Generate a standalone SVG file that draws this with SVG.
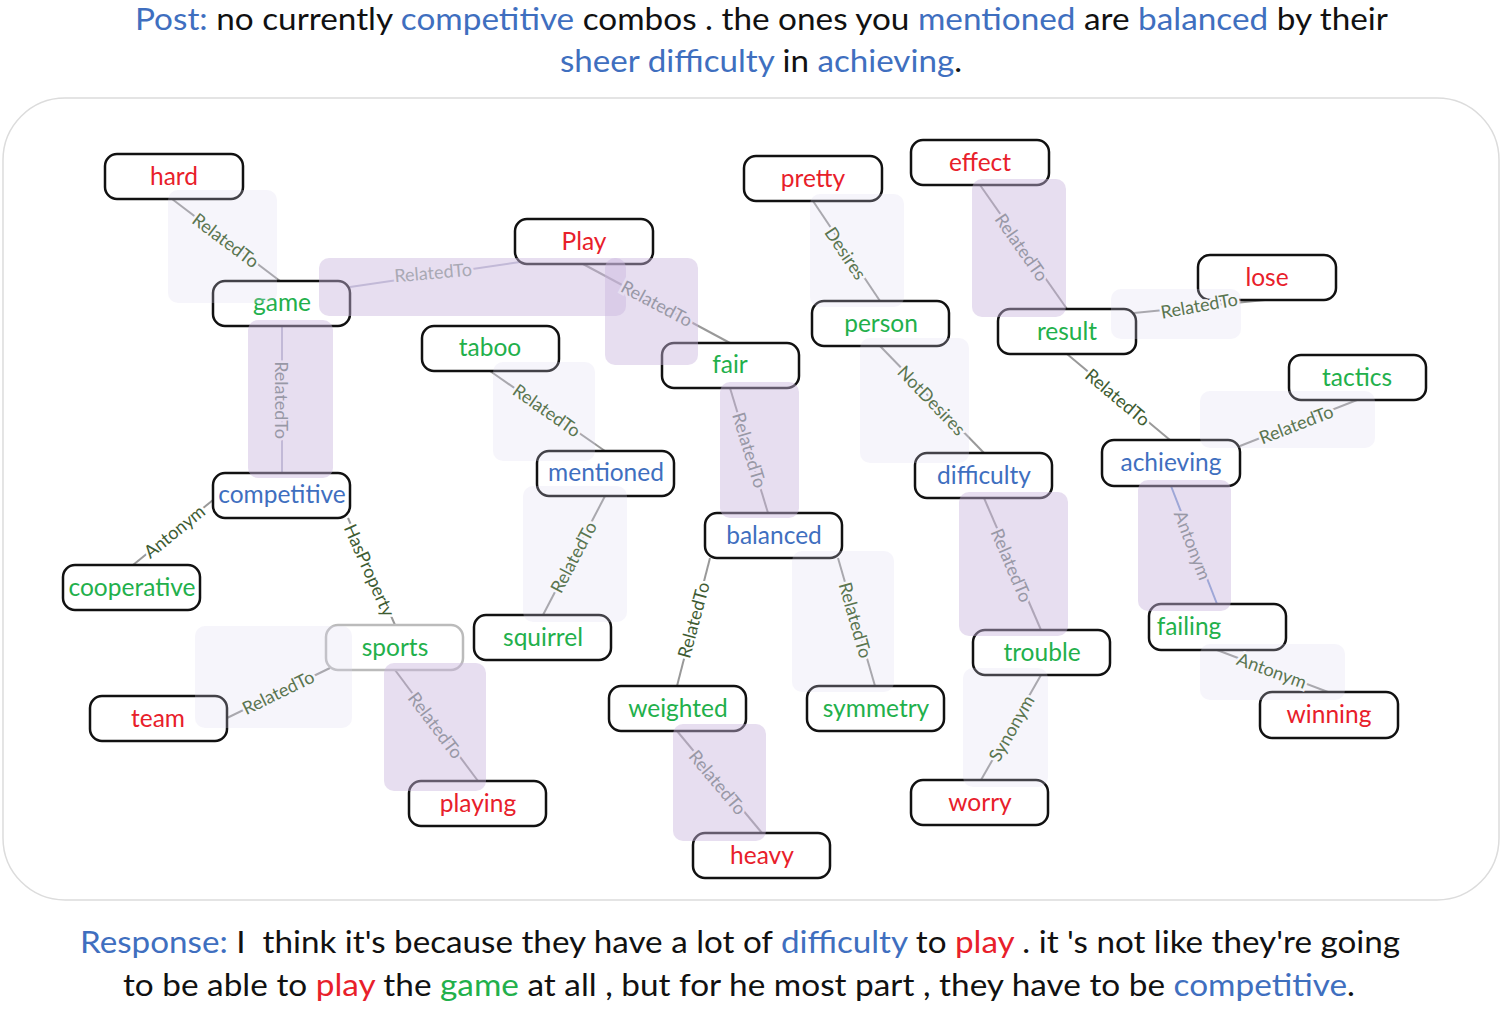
<svg xmlns="http://www.w3.org/2000/svg" width="1504" height="1009" viewBox="0 0 1504 1009">
<style>
.cap{font-family:Lato,"Open Sans","Liberation Sans",sans-serif;font-size:31px;fill:#111}
.b{fill:#3f6fbf}.r{fill:#e8202a}.g{fill:#22b04b}
.box{fill:#fff;stroke:#111;stroke-width:2.5}
.box2{fill:#fff;stroke:#bbb;stroke-width:2.5}
.nt{font-family:Lato,"Open Sans","Liberation Sans",sans-serif;font-size:24.5px;text-anchor:middle}
.ln{stroke:#999;stroke-width:2;fill:none}
.ln2{stroke:#bcbcd2;stroke-width:2;fill:none}
.ln3{stroke:#7b9bd2;stroke-width:2;fill:none}
.sp{fill:#c9b6dd;opacity:0.45}
.sf{fill:#dcd8ee;opacity:0.25}
.lb{font-family:Lato,"Open Sans","Liberation Sans",sans-serif;font-size:18px;text-anchor:middle;dominant-baseline:central;paint-order:stroke;stroke-width:5px}
.lg{fill:#3e5c32;stroke:#fff}
.lf{fill:#5a7550;stroke:#f7f6fb}
.lp{fill:#9898a6;stroke:#e7def0}
</style>
<!-- captions -->
<text class="cap" x="135" y="30" textLength="1253" lengthAdjust="spacingAndGlyphs"><tspan class="b">Post:</tspan> no currently <tspan class="b">competitive</tspan> combos . the ones you <tspan class="b">mentioned</tspan> are <tspan class="b">balanced</tspan> by their</text>
<text class="cap" x="560" y="72" textLength="402" lengthAdjust="spacingAndGlyphs"><tspan class="b">sheer difficulty</tspan> in <tspan class="b">achieving</tspan>.</text>
<text class="cap" x="80" y="953" textLength="1320" lengthAdjust="spacingAndGlyphs" xml:space="preserve"><tspan class="b">Response:</tspan> I  think it's because they have a lot of <tspan class="b">difficulty</tspan> to <tspan class="r">play</tspan> . it 's not like they're going</text>
<text class="cap" x="123" y="996" textLength="1232" lengthAdjust="spacingAndGlyphs">to be able to <tspan class="r">play</tspan> the <tspan class="g">game</tspan> at all , but for he most part , they have to be <tspan class="b">competitive</tspan>.</text>
<rect x="3" y="98" width="1496" height="802" rx="62" fill="#fff" stroke="#dcdcdc" stroke-width="1.5"/>
<g id="connectors">
<line class="ln" x1="172" y1="199" x2="280" y2="281"/>
<line class="ln2" x1="350" y1="287" x2="520" y2="262"/>
<line class="ln" x1="583" y1="264" x2="730" y2="343"/>
<line class="ln2" x1="282" y1="326" x2="282" y2="473"/>
<line class="ln" x1="490" y1="371" x2="605" y2="451"/>
<line class="ln" x1="730" y1="388" x2="768" y2="513"/>
<line class="ln" x1="213" y1="500" x2="133" y2="565"/>
<line class="ln" x1="348" y1="518" x2="395" y2="625"/>
<line class="ln" x1="605" y1="496" x2="543" y2="615"/>
<line class="ln" x1="227" y1="718" x2="330" y2="668"/>
<line class="ln" x1="395" y1="670" x2="478" y2="781"/>
<line class="ln" x1="710" y1="558" x2="677" y2="686"/>
<line class="ln" x1="838" y1="558" x2="875" y2="686"/>
<line class="ln" x1="677" y1="731" x2="762" y2="833"/>
<line class="ln" x1="813" y1="201" x2="880" y2="301"/>
<line class="ln" x1="980" y1="185" x2="1067" y2="309"/>
<line class="ln" x1="1134" y1="313" x2="1265" y2="300"/>
<line class="ln" x1="880" y1="346" x2="984" y2="453"/>
<line class="ln" x1="1067" y1="354" x2="1170" y2="440"/>
<line class="ln" x1="1240" y1="446" x2="1357" y2="400"/>
<line class="ln" x1="984" y1="498" x2="1041" y2="630"/>
<line class="ln3" x1="1171" y1="486" x2="1217" y2="604"/>
<line class="ln" x1="1041" y1="675" x2="981" y2="780"/>
<line class="ln" x1="1217" y1="650" x2="1328" y2="692"/>
</g>
<g id="n-hard"><rect class="box" x="105" y="154" width="138" height="45" rx="12"/><text class="nt r" x="174" y="185">hard</text></g>
<g id="n-game"><rect class="box" x="213" y="281" width="137" height="45" rx="12"/><text class="nt g" x="282" y="311">game</text></g>
<g id="n-play"><rect class="box" x="515" y="219" width="138" height="45" rx="12"/><text class="nt r" x="584" y="250">Play</text></g>
<g id="n-taboo"><rect class="box" x="422" y="326" width="137" height="45" rx="12"/><text class="nt g" x="490" y="356">taboo</text></g>
<g id="n-fair"><rect class="box" x="662" y="343" width="137" height="45" rx="12"/><text class="nt g" x="730" y="373">fair</text></g>
<g id="n-mentioned"><rect class="box" x="537" y="451" width="137" height="45" rx="12"/><text class="nt b" x="606" y="481">mentioned</text></g>
<g id="n-competitive"><rect class="box" x="213" y="473" width="137" height="45" rx="12"/><text class="nt b" x="282" y="503">competitive</text></g>
<g id="n-cooperative"><rect class="box" x="63" y="565" width="137" height="45" rx="12"/><text class="nt g" x="132" y="596">cooperative</text></g>
<g id="n-sports"><rect class="box2" x="326" y="625" width="137" height="45" rx="12"/><text class="nt g" x="395" y="656">sports</text></g>
<g id="n-squirrel"><rect class="box" x="474" y="615" width="137" height="45" rx="12"/><text class="nt g" x="543" y="646">squirrel</text></g>
<g id="n-team"><rect class="box" x="90" y="696" width="137" height="45" rx="12"/><text class="nt r" x="158" y="727">team</text></g>
<g id="n-playing"><rect class="box" x="409" y="781" width="137" height="45" rx="12"/><text class="nt r" x="478" y="812">playing</text></g>
<g id="n-balanced"><rect class="box" x="705" y="513" width="137" height="45" rx="12"/><text class="nt b" x="774" y="544">balanced</text></g>
<g id="n-weighted"><rect class="box" x="609" y="686" width="137" height="45" rx="12"/><text class="nt g" x="678" y="717">weighted</text></g>
<g id="n-symmetry"><rect class="box" x="807" y="686" width="137" height="45" rx="12"/><text class="nt g" x="876" y="717">symmetry</text></g>
<g id="n-heavy"><rect class="box" x="693" y="833" width="137" height="45" rx="12"/><text class="nt r" x="762" y="864">heavy</text></g>
<g id="n-pretty"><rect class="box" x="744" y="156" width="138" height="45" rx="12"/><text class="nt r" x="813" y="187">pretty</text></g>
<g id="n-effect"><rect class="box" x="911" y="140" width="138" height="45" rx="12"/><text class="nt r" x="980" y="171">effect</text></g>
<g id="n-person"><rect class="box" x="812" y="301" width="137" height="45" rx="12"/><text class="nt g" x="881" y="332">person</text></g>
<g id="n-result"><rect class="box" x="998" y="309" width="138" height="45" rx="12"/><text class="nt g" x="1067" y="340">result</text></g>
<g id="n-lose"><rect class="box" x="1198" y="255" width="138" height="45" rx="12"/><text class="nt r" x="1267" y="286">lose</text></g>
<g id="n-tactics"><rect class="box" x="1289" y="355" width="137" height="45" rx="12"/><text class="nt g" x="1357" y="386">tactics</text></g>
<g id="n-achieving"><rect class="box" x="1102" y="440" width="138" height="46" rx="12"/><text class="nt b" x="1171" y="471">achieving</text></g>
<g id="n-difficulty"><rect class="box" x="915" y="453" width="137" height="45" rx="12"/><text class="nt b" x="984" y="484">difficulty</text></g>
<g id="n-trouble"><rect class="box" x="973" y="630" width="137" height="45" rx="12"/><text class="nt g" x="1042" y="661">trouble</text></g>
<g id="n-failing"><rect class="box" x="1149" y="604" width="137" height="46" rx="12"/><text class="nt g" x="1189" y="635">failing</text></g>
<g id="n-winning"><rect class="box" x="1260" y="692" width="138" height="46" rx="12"/><text class="nt r" x="1329" y="723">winning</text></g>
<g id="n-worry"><rect class="box" x="911" y="780" width="137" height="45" rx="12"/><text class="nt r" x="980" y="811">worry</text></g>
<g id="edge-labels">
<rect class="sf" x="168" y="190" width="109" height="113" rx="10"/>
<rect class="sp" x="319" y="258" width="307" height="58" rx="10"/>
<rect class="sp" x="605" y="258" width="93" height="107" rx="10"/>
<rect class="sp" x="248" y="320" width="85" height="158" rx="10"/>
<rect class="sf" x="493" y="362" width="102" height="99" rx="10"/>
<rect class="sp" x="720" y="382" width="79" height="136" rx="10"/>
<rect class="sf" x="523" y="486" width="104" height="136" rx="10"/>
<rect class="sf" x="195" y="626" width="157" height="102" rx="10"/>
<rect class="sp" x="384" y="663" width="102" height="128" rx="10"/>
<rect class="sf" x="792" y="551" width="102" height="141" rx="10"/>
<rect class="sp" x="673" y="724" width="93" height="117" rx="10"/>
<rect class="sf" x="810" y="194" width="94" height="113" rx="10"/>
<rect class="sp" x="972" y="179" width="94" height="138" rx="10"/>
<rect class="sf" x="1111" y="289" width="130" height="50" rx="10"/>
<rect class="sf" x="860" y="338" width="109" height="125" rx="10"/>
<rect class="sf" x="1200" y="391" width="175" height="57" rx="10"/>
<rect class="sp" x="959" y="492" width="109" height="144" rx="10"/>
<rect class="sp" x="1138" y="480" width="93" height="131" rx="10"/>
<rect class="sf" x="963" y="668" width="85" height="119" rx="10"/>
<rect class="sf" x="1200" y="644" width="145" height="56" rx="10"/>
<text class="lb lf" transform="translate(226,240) rotate(37)">RelatedTo</text>
<text class="lb lp" style="fill:#a9a9b4" transform="translate(433,272) rotate(-5)">RelatedTo</text>
<text class="lb lp" transform="translate(657,303) rotate(28)">RelatedTo</text>
<text class="lb lp" transform="translate(282,400) rotate(90)">RelatedTo</text>
<text class="lb lf" transform="translate(547,410) rotate(35)">RelatedTo</text>
<text class="lb lp" transform="translate(750,450) rotate(73)">RelatedTo</text>
<text class="lb lg" transform="translate(174,531) rotate(-39)">Antonym</text>
<text class="lb lg" transform="translate(370,570) rotate(66)">HasProperty</text>
<text class="lb lf" transform="translate(573,557) rotate(-62)">RelatedTo</text>
<text class="lb lf" transform="translate(278,692) rotate(-26)">RelatedTo</text>
<text class="lb lp" transform="translate(436,725) rotate(53)">RelatedTo</text>
<text class="lb lg" transform="translate(693,620) rotate(-75)">RelatedTo</text>
<text class="lb lf" transform="translate(856,620) rotate(74)">RelatedTo</text>
<text class="lb lp" transform="translate(718,782) rotate(50)">RelatedTo</text>
<text class="lb lf" transform="translate(846,253) rotate(56)">Desires</text>
<text class="lb lp" transform="translate(1022,247) rotate(55)">RelatedTo</text>
<text class="lb lf" transform="translate(1199,305) rotate(-10)">RelatedTo</text>
<text class="lb lf" transform="translate(932,400) rotate(46)">NotDesires</text>
<text class="lb lg" transform="translate(1118,397) rotate(40)">RelatedTo</text>
<text class="lb lf" transform="translate(1296,424) rotate(-21)">RelatedTo</text>
<text class="lb lp" transform="translate(1012,565) rotate(67)">RelatedTo</text>
<text class="lb lp" transform="translate(1193,545) rotate(69)">Antonym</text>
<text class="lb lf" transform="translate(1011,728) rotate(-60)">Synonym</text>
<text class="lb lf" transform="translate(1272,670) rotate(20)">Antonym</text>
</g>
</svg>
